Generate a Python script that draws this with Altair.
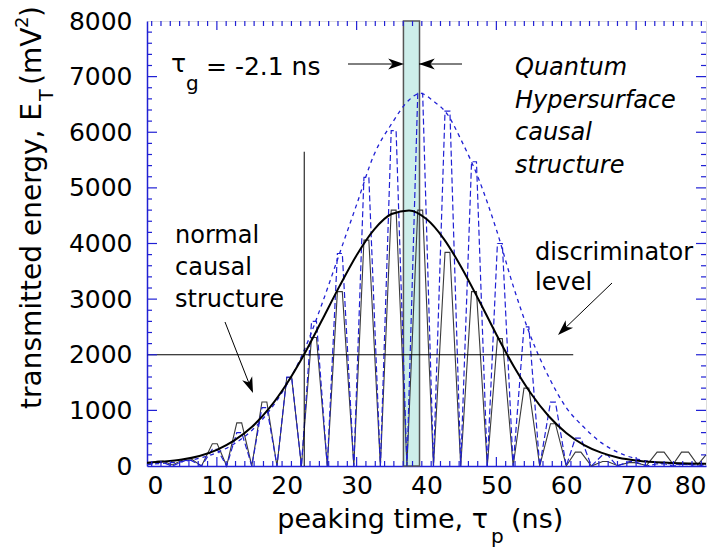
import altair as alt
import pandas as pd

# ---------------- data ----------------
# black smooth curve (normal causal structure envelope)
gauss_x = [0, 2.5, 5, 7.5, 10, 12.5, 15, 17.5, 20, 22.5, 25, 27.5, 30, 32.5, 35, 37.5,
           40, 42.5, 45, 47.5, 50, 52.5, 55, 57.5, 60, 62.5, 65, 67.5, 70, 72.5, 75, 77.5, 80]
gauss_y = [60, 80, 115, 180, 290, 460, 700, 1040, 1480, 2010, 2610, 3220, 3790, 4250, 4530, 4595,
           4440, 4080, 3570, 2980, 2365, 1790, 1295, 895, 595, 380, 240, 150, 100, 70, 55, 45, 40]

# blue dashed envelope (quantum hypersurface causal structure)
env_x = [0, 2.5, 5, 7.5, 10, 12.5, 15, 17.5, 20, 22.5, 25, 27.5, 30, 32.5, 35, 37.5, 39.1,
         41, 43, 45, 47.5, 50, 52.5, 55, 57.5, 60, 62.5, 65, 67.5, 70, 72.5, 75, 77.5, 80]
env_y = [30, 50, 80, 140, 240, 400, 640, 990, 1460, 2080, 2900, 3800, 4700, 5600, 6150, 6580, 6700,
         6560, 6320, 5850, 5150, 4250, 3200, 2300, 1600, 1050, 700, 420, 240, 130, 70, 40, 25, 20]

# oscillating signals (same sampling times for both)
osc_x = [0,
         1.5, 2.3, 3.6,
         5.5, 6.3, 7.8,
         9.35, 10.05, 11.4,
         12.85, 13.55, 15.0,
         16.45, 17.15, 18.6,
         20.0, 20.7, 22.1,
         23.55, 24.25, 25.8,
         27.25, 27.95, 29.6,
         31.05, 31.75, 33.4,
         34.95, 35.65, 37.2,
         38.75, 39.45, 41.0,
         42.65, 43.35, 44.9,
         46.45, 47.15, 48.7,
         50.15, 50.85, 52.4,
         53.95, 54.65, 56.2,
         57.75, 58.45, 60.0,
         61.3, 62.1, 63.6,
         65.2, 65.9, 67.3,
         69.0, 69.8, 71.5,
         73.0, 74.0, 75.3,
         76.5, 77.5, 78.8,
         80]
osc_black_y = [40,
               90, 90, 20,
               130, 130, 0,
               400, 400, 0,
               775, 775, 0,
               1150, 1150, 0,
               1590, 1590, 0,
               2310, 2310, 0,
               3135, 3135, 0,
               4060, 4060, 0,
               4600, 4600, 0,
               4600, 4600, 0,
               3840, 3840, 0,
               3135, 3135, 0,
               2290, 2290, 0,
               1400, 1400, 0,
               760, 760, 0,
               250, 250, 0,
               80, 80, 10,
               60, 60, 10,
               250, 250, 30,
               250, 250, 20,
               200]
osc_blue_y = [20,
              60, 60, 0,
              100, 100, 0,
              300, 300, 0,
              600, 600, 0,
              1050, 1050, 0,
              1600, 1600, 0,
              2600, 2600, 0,
              3820, 3820, 0,
              5190, 5190, 0,
              6030, 6030, 0,
              6700, 6700, 0,
              6380, 6380, 0,
              5470, 5470, 0,
              4000, 4000, 0,
              2500, 2500, 0,
              1150, 1150, 0,
              500, 500, 0,
              200, 200, 0,
              80, 80, 0,
              40, 40, 0,
              30, 30, 0,
              20]

x_labels = [0, 10, 20, 30, 40, 50, 60, 70, 80]
y_labels = [0, 1000, 2000, 3000, 4000, 5000, 6000, 7000, 8000]
x_major = [10, 30, 50, 70]
x_minor = [0.67, 2, 3.33, 4.67, 6, 7.33, 8.67, 11.33, 12.67, 14, 15.33, 16.67, 18, 19.33,
           20.67, 22, 23.33, 24.67, 26, 27.33, 28.67, 31.33, 32.67, 34, 35.33, 36.67, 38,
           39.33, 40.67, 42, 43.33, 44.67, 46, 47.33, 48.67, 51.33, 52.67, 54, 55.33, 56.67,
           58, 59.33, 60.67, 62, 63.33, 64.67, 66, 67.33, 68.67, 71.33, 72.67, 74, 75.33,
           76.67, 78, 79.33]
y_major = [1000, 2000, 3000, 4000, 5000, 6000, 7000]
y_minor = [200, 400, 600, 800, 1200, 1400, 1600, 1800, 2200, 2400, 2600, 2800, 3200, 3400,
           3600, 3800, 4200, 4400, 4600, 4800, 5200, 5400, 5600, 5800, 6200, 6400, 6600, 6800,
           7200, 7400, 7600, 7800]

band = [36.7, 39.0]          # shaded delay band (ns)
discriminator = 2000         # discriminator level
disc_end = 61.0
vline_x, vline_top = 22.5, 5650

# ---------------- styling ----------------
W, H = 559, 445
BLUE = "#2020d4"
FONT = "DejaVu Sans"

xs = alt.Scale(domain=[0, 80], nice=False, zero=False)
ys = alt.Scale(domain=[0, 8000], nice=False)

one = pd.DataFrame({"a": [0]})


def line_df(x, y):
    return pd.DataFrame({"x": x, "y": y, "o": list(range(len(x)))})


X = alt.X("x:Q", scale=xs,
          axis=alt.Axis(values=x_labels, ticks=False, grid=False, domainColor=BLUE,
                        domainWidth=1.5, labelFontSize=25, labelFont=FONT, format="d",
                        labelColor="black", labelPadding=7, title=None))
Y = alt.Y("y:Q", scale=ys,
          axis=alt.Axis(values=y_labels, ticks=False, grid=False, domainColor=BLUE,
                        domainWidth=1.5, labelFontSize=25, labelFont=FONT, format="d",
                        labelColor="black", labelPadding=15, title=None))

# band
band_layer = alt.Chart(pd.DataFrame({"x": [band[0]], "x2": [band[1]], "y": [0], "y2": [8000]})).mark_rect(
    fill="#cdeeea", stroke="#555555", strokeWidth=1.5
).encode(x=X, x2="x2:Q", y=Y, y2="y2:Q")

black_osc = alt.Chart(line_df(osc_x, osc_black_y)).mark_line(
    color="#3a3a3a", strokeWidth=1.1
).encode(x="x:Q", y="y:Q", order="o:Q")

blue_osc = alt.Chart(line_df(osc_x, osc_blue_y)).mark_line(
    color=BLUE, strokeWidth=1.2, strokeDash=[6, 3]
).encode(x="x:Q", y="y:Q", order="o:Q")

blue_env = alt.Chart(line_df(env_x, env_y)).mark_line(
    color=BLUE, strokeWidth=1.3, strokeDash=[4, 4], interpolate="monotone"
).encode(x="x:Q", y="y:Q", order="o:Q")

gauss = alt.Chart(line_df(gauss_x, gauss_y)).mark_line(
    color="black", strokeWidth=2, interpolate="monotone"
).encode(x="x:Q", y="y:Q", order="o:Q")

disc = alt.Chart(pd.DataFrame({"x": [0], "x2": [disc_end], "y": [discriminator]})).mark_rule(
    color="black", strokeWidth=1
).encode(x="x:Q", x2="x2:Q", y="y:Q")

vline = alt.Chart(pd.DataFrame({"x": [vline_x], "y": [0], "y2": [vline_top]})).mark_rule(
    color="black", strokeWidth=1
).encode(x="x:Q", y="y:Q", y2="y2:Q")


# inward ticks on all four sides
def ticks(vals, axis, length):
    d = pd.DataFrame({"v": vals})
    c = alt.Chart(d).mark_rule(color=BLUE, strokeWidth=1.2)
    if axis == "x":
        return [c.encode(x="v:Q", y=alt.value(H), y2=alt.value(H - length)),
                c.encode(x="v:Q", y=alt.value(0), y2=alt.value(length))]
    return [c.encode(y=alt.Y("v:Q"), x=alt.value(0), x2=alt.value(length)),
            c.encode(y=alt.Y("v:Q"), x=alt.value(W), x2=alt.value(W - length))]


tick_layers = (ticks(x_major, "x", 9) + ticks(x_minor, "x", 5)
               + ticks(y_major, "y", 10) + ticks(y_minor, "y", 5))


def txt(s, px, py, size=24, align="left", angle=0, italic=False, baseline="alphabetic"):
    return alt.Chart(one).mark_text(
        text=s, align=align, baseline=baseline, fontSize=size, font=FONT,
        fontStyle="italic" if italic else "normal", angle=angle, color="black"
    ).encode(x=alt.value(px), y=alt.value(py))


def seg(x1, y1, x2, y2):
    return alt.Chart(one).mark_rule(color="black", strokeWidth=1).encode(
        x=alt.value(x1), y=alt.value(y1), x2=alt.value(x2), y2=alt.value(y2))


HEAD = "M0,0 L-1,-0.34 L-0.72,0 L-1,0.34 Z"


def head(px, py, ang):
    return alt.Chart(one).mark_point(
        shape=HEAD, size=1000, filled=True, color="black", opacity=1, angle=ang, strokeWidth=0
    ).encode(x=alt.value(px), y=alt.value(py))


# plot-relative pixel offsets: abs_x - 147, abs_y - 21
annot = [
    # tau_g label
    txt("τ", 24, 51, size=25),
    txt("g", 39, 69, size=20),
    txt("= -2.1 ns", 59, 54, size=25),
    seg(201, 43, 254, 43), head(257, 43, 0),
    seg(315, 43, 272, 43), head(272, 43, 180),
    # quantum label
    txt("Quantum", 368, 54, italic=True),
    txt("Hypersurface", 368, 87, italic=True),
    txt("causal", 368, 119, italic=True),
    txt("structure", 368, 152, italic=True),
    # normal label
    txt("normal", 28, 222),
    txt("causal", 28, 254),
    txt("structure", 28, 286),
    seg(78, 301, 105, 370), head(106, 372, 68.4),
    # discriminator
    txt("discriminator", 388, 239),
    txt("level", 388, 269),
    seg(465, 262, 413, 312), head(411, 314, 135.9),
    # x title
    txt("peaking time, τ", 341, 507, size=27, align="right"),
    txt("p", 344, 522, size=20),
    txt("(ns)", 364, 507, size=27),
    # y title (rotated)
    txt("transmitted energy, E", -106, 82, size=28, angle=270, align="right"),
    txt("T", -94, 80, size=19, angle=270, align="left"),
    txt("(mV", -106, 64, size=28, angle=270, align="left"),
    txt("2", -119, 7, size=18, angle=270, align="left"),
    txt(")", -106, -4, size=28, angle=270, align="left"),
]

chart = alt.layer(
    band_layer, black_osc, blue_osc, blue_env, gauss, disc, vline, *tick_layers, *annot
).properties(
    width=W, height=H,
    padding={"left": 147, "top": 21, "right": 15, "bottom": 92},
    autosize=alt.AutoSizeParams(type="none"),
).configure_view(stroke=BLUE, strokeWidth=1.5).configure(background="white")

chart.save("out.html", embed_options={"renderer": "svg", "actions": False})
